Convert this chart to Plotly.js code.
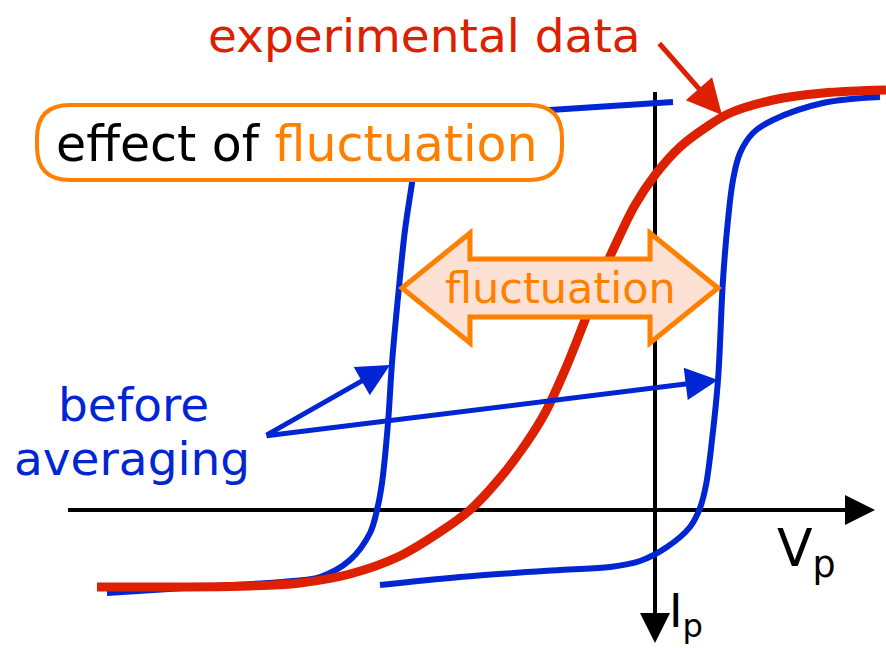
<!DOCTYPE html>
<html><head><meta charset="utf-8">
<script src="https://cdn.plot.ly/plotly-3.0.1.min.js"></script>
<style>html,body{margin:0;padding:0;background:#fff}#chart{width:886px;height:648px}</style>
</head><body><div id="chart"></div>
<script>
// Experimental (averaged) curve
const redX = [97, 250, 300, 350, 400, 440, 470, 500, 525, 545, 565, 585, 605, 620, 635, 655, 680, 705, 730, 773, 823, 886];
const redY = [587, 586, 583, 574, 556, 532, 510, 478, 445, 413, 370, 320, 268, 235, 205, 175, 147, 128, 113, 100, 93, 90];
// Before averaging: left branch
const blueLX = [107, 200, 293, 320, 350, 370, 377, 382, 388, 392, 399, 405, 412, 418, 440, 550, 673];
const blueLY = [593, 587, 581, 577, 560, 533, 510, 483, 423, 363, 287, 230, 183, 140, 118, 110, 102];
// Before averaging: right branch
const blueRX = [380, 460, 560, 610, 640, 667, 690, 700, 706, 712, 718, 723, 728, 733, 740, 753, 773, 823, 880];
const blueRY = [585, 577, 570, 567, 561, 547, 527, 508, 485, 440, 380, 280, 220, 180, 153, 133, 120, 103, 97];
// Axes
const hAxisX = [68, 855];
const hAxisY = [510, 510];
const vAxisX = [655, 655];
const vAxisY = [92, 625];

const RED = '#dc2000', BLUE = '#0026d4', ORANGE = '#ff8000', FILL = '#fde1d5';
const FONT = '"DejaVu Sans", sans-serif';

const traces = [
  {x: hAxisX, y: hAxisY, mode: 'lines', line: {color: '#000', width: 4}, hoverinfo: 'skip'},
  {x: vAxisX, y: vAxisY, mode: 'lines', line: {color: '#000', width: 4}, hoverinfo: 'skip'},
  {x: blueLX, y: blueLY, mode: 'lines', line: {color: BLUE, width: 6, shape: 'spline', smoothing: 1}, hoverinfo: 'skip'},
  {x: blueRX, y: blueRY, mode: 'lines', line: {color: BLUE, width: 6, shape: 'spline', smoothing: 1}, hoverinfo: 'skip'},
  {x: redX, y: redY, mode: 'lines', line: {color: RED, width: 9, shape: 'spline', smoothing: 1}, hoverinfo: 'skip'}
];

function arrow(x, y, ax, ay, color, width, size) {
  return {x: x, y: y, ax: ax, ay: ay, xref: 'x', yref: 'y', axref: 'x', ayref: 'y',
    text: '', showarrow: true, arrowhead: 2, arrowsize: size, arrowwidth: width, arrowcolor: color, standoff: 0};
}
function label(text, x, y, size, color) {
  return {x: x, y: y, xref: 'x', yref: 'y', text: text, showarrow: false,
    xanchor: 'center', yanchor: 'middle', font: {family: FONT, size: size, color: color}};
}

const layout = {
  width: 886, height: 648,
  margin: {l: 0, r: 0, t: 0, b: 0},
  paper_bgcolor: '#fff', plot_bgcolor: '#fff',
  showlegend: false,
  xaxis: {range: [0, 886], visible: false, fixedrange: true},
  yaxis: {range: [648, 0], visible: false, fixedrange: true},
  shapes: [
    {type: 'path', xref: 'x', yref: 'y',
     path: 'M 70,105 L 529,105 Q 562,105 562,138 L 562,147 Q 562,180 529,180 L 70,180 Q 37,180 37,147 L 37,138 Q 37,105 70,105 Z',
     line: {color: ORANGE, width: 4}, fillcolor: '#ffffff'},
    {type: 'path', xref: 'x', yref: 'y',
     path: 'M 402,288 L 470,233 L 470,259 L 650,259 L 650,233 L 718,288 L 650,343 L 650,317 L 470,317 L 470,343 Z',
     line: {color: ORANGE, width: 5}, fillcolor: FILL}
  ],
  annotations: [
    arrow(875, 510, 850, 510, '#000', 4, 1.5),
    arrow(655, 643, 655, 615, '#000', 4, 1.5),
    arrow(722, 115, 658, 42, RED, 5, 1.4),
    arrow(390, 365, 265, 436, BLUE, 5, 1.3),
    arrow(718, 380, 265, 436, BLUE, 5, 1.3),
    label('experimental data', 424, 35, 47, RED),
    label('effect of <span style="color:' + ORANGE + '">fluctuation</span>', 297, 144, 49, '#000'),
    label('fluctuation', 560, 288, 43, ORANGE),
    label('before', 133, 404, 47, BLUE),
    label('averaging', 132, 458, 47, BLUE),
    label('V<sub>p</sub>', 806, 552, 52, '#000'),
    label('I<sub>p</sub>', 686, 614, 46, '#000')
  ]
};
Plotly.newPlot('chart', traces, layout, {staticPlot: true, displayModeBar: false});
</script></body></html>
